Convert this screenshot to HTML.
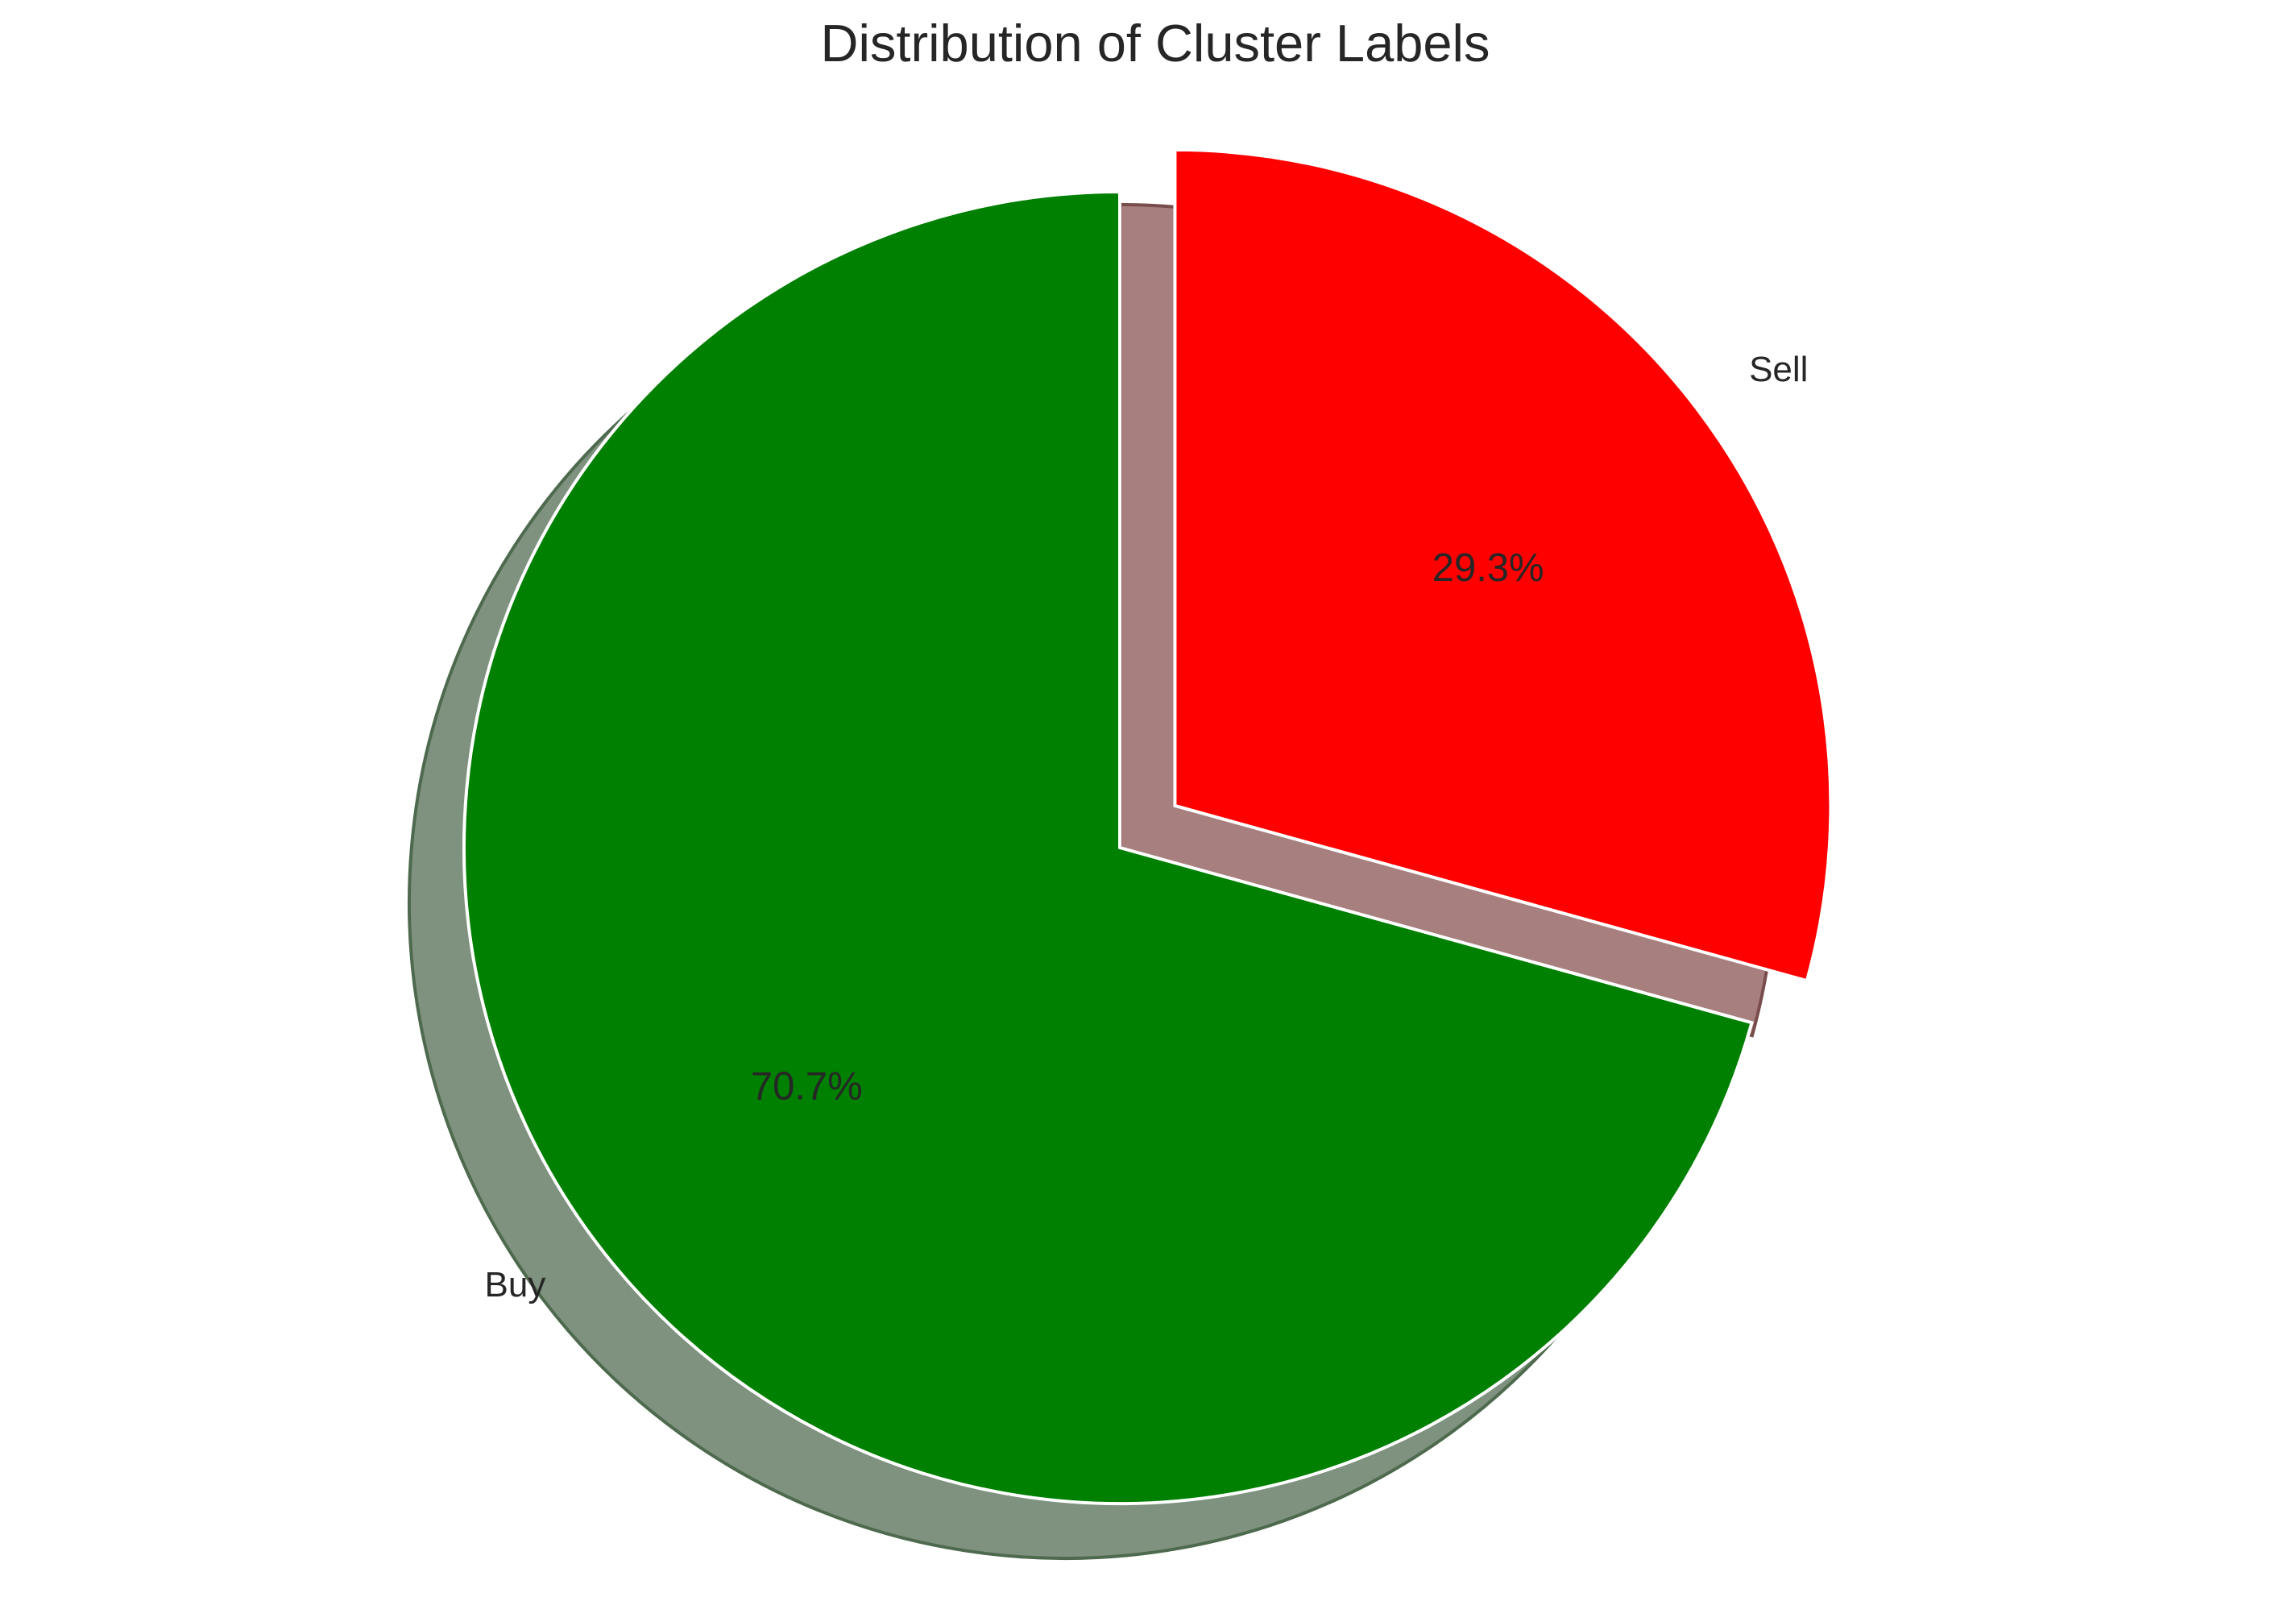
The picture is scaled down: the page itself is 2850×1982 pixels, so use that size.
<!DOCTYPE html>
<html><head><meta charset="utf-8"><style>
html,body{margin:0;padding:0;background:#fff;}
svg{display:block;font-family:"Liberation Sans",Arial,sans-serif;}
</style></head><body>
<svg id="chart" width="2850" height="1982" viewBox="0 0 2850 1982" xmlns="http://www.w3.org/2000/svg">
<text x="1434" y="76" font-size="65" text-anchor="middle" fill="#262626">Distribution of Cluster Labels</text>
<g id="shadows"></g><g id="slices"></g><g id="labels"></g>
</svg>
<script>
const categories = ["Buy", "Sell"];
const values = [70.7, 29.3];
const colors = ["#008000", "#ff0000"];
const shadowColors = ["#7f917f", "#a87f7f"];
const shadowEdges = ["#4e6a4e", "#7a4d4d"];
const explode = [0, 1];

const NS = "http://www.w3.org/2000/svg";
const cx = 1390, cy = 1052, R = 814, EXP = 86, SDX = -68, SDY = 68;
const total = values.reduce((a, b) => a + b, 0);
function pt(x, y, r, deg) { const a = deg * Math.PI / 180; return [x + r * Math.cos(a), y - r * Math.sin(a)]; }
function wedge(x, y, a0, a1) {
  const p0 = pt(x, y, R, a0), p1 = pt(x, y, R, a1);
  const large = Math.abs(a1 - a0) > 180 ? 1 : 0;
  return `M${x},${y} L${p0[0]},${p0[1]} A${R},${R} 0 ${large} 0 ${p1[0]},${p1[1]} Z`;
}
const gs = document.getElementById("shadows"), gp = document.getElementById("slices"), gl = document.getElementById("labels");
let start = 90;
values.forEach((v, i) => {
  const sweep = v / total * 360;
  const a0 = start, a1 = start + sweep;
  const mid = (a0 + a1) / 2;
  const off = explode[i] * EXP;
  const [x, y] = pt(cx, cy, off, mid);
  const sh = document.createElementNS(NS, "path");
  sh.setAttribute("d", wedge(x + SDX, y + SDY, a0, a1));
  sh.setAttribute("fill", shadowColors[i]);
  sh.setAttribute("stroke", shadowEdges[i]);
  sh.setAttribute("stroke-width", "4");
  
  
  gs.appendChild(sh);
  const p = document.createElementNS(NS, "path");
  p.setAttribute("d", wedge(x, y, a0, a1));
  p.setAttribute("fill", colors[i]);
  p.setAttribute("stroke", "#ffffff");
  p.setAttribute("stroke-width", "4");
  
  
  gp.appendChild(p);
  const lp = pt(x, y, R * 1.1, mid);
  const t = document.createElementNS(NS, "text");
  t.setAttribute("x", lp[0]); t.setAttribute("y", lp[1] + 15);
  t.setAttribute("font-size", "44"); t.setAttribute("fill", "#262626");
  t.setAttribute("text-anchor", Math.cos(mid * Math.PI / 180) >= 0 ? "start" : "end");
  t.textContent = categories[i];
  
  
  gl.appendChild(t);
  const pp = pt(x, y, R * 0.6, mid);
  const t2 = document.createElementNS(NS, "text");
  t2.setAttribute("x", pp[0]); t2.setAttribute("y", pp[1] + 17);
  t2.setAttribute("font-size", "49"); t2.setAttribute("fill", "#262626");
  t2.setAttribute("text-anchor", "middle");
  t2.textContent = v.toFixed(1) + "%";
  
  
  gl.appendChild(t2);
  start = a1;
});
</script>
</body></html>
